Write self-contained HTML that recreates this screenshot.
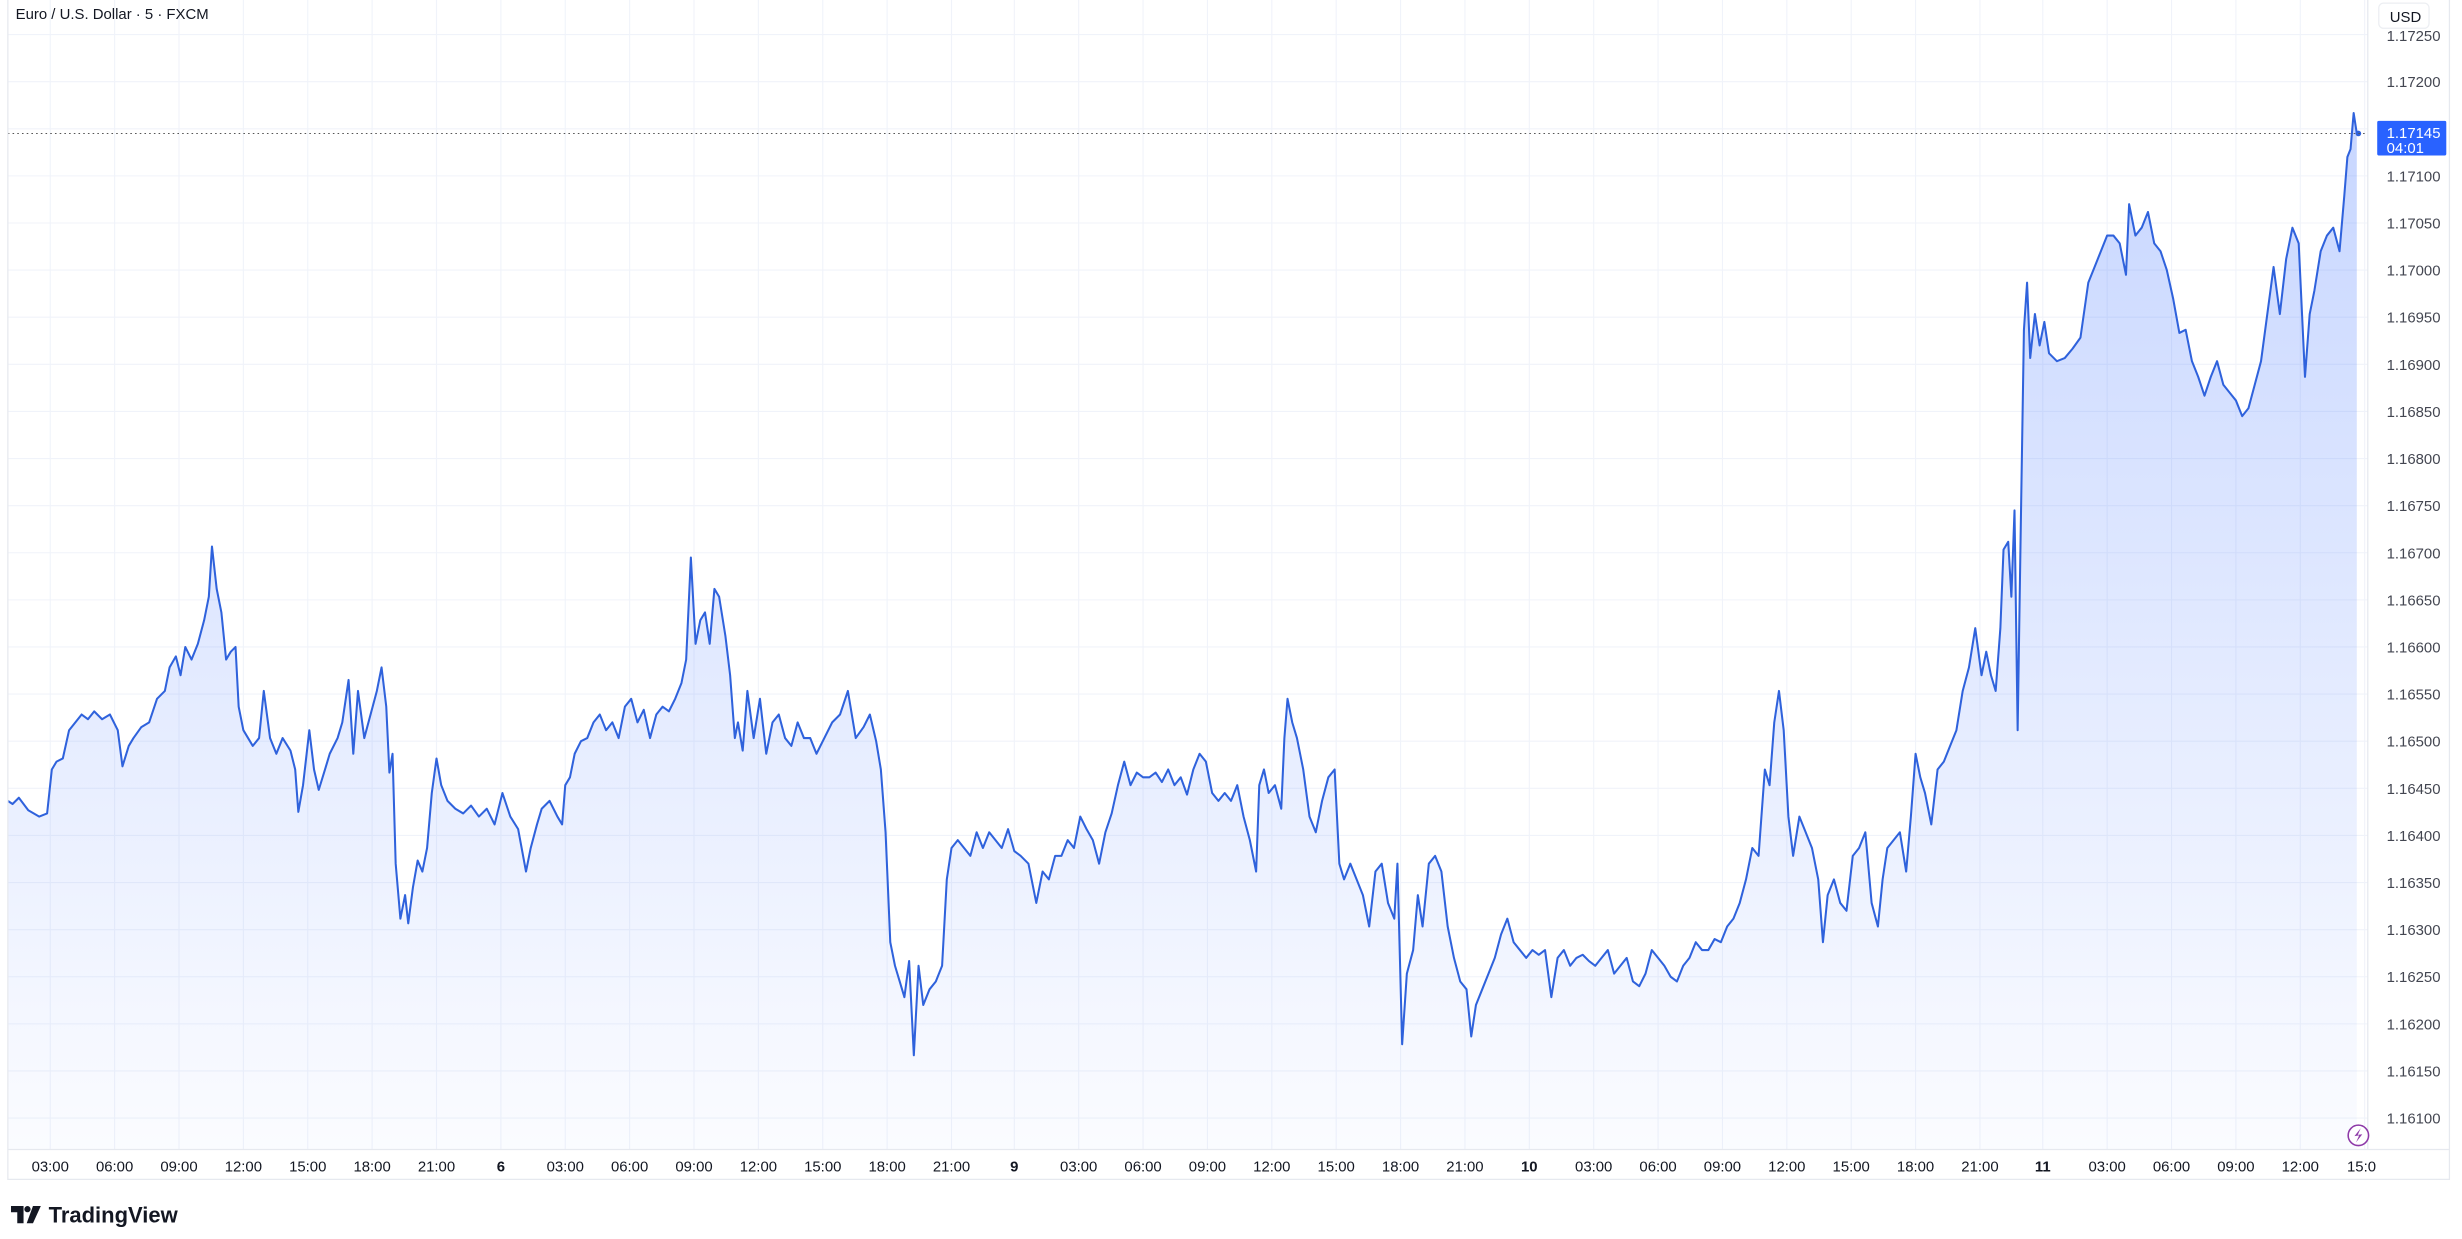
<!DOCTYPE html>
<html><head><meta charset="utf-8"><style>
html,body{margin:0;padding:0;background:#fff;}
svg{display:block;}
text{font-family:"Liberation Sans",sans-serif;}
</style></head><body>
<svg width="2462" height="1239" viewBox="0 0 1568 789" preserveAspectRatio="none" xmlns="http://www.w3.org/2000/svg">
<defs><linearGradient id="g" x1="0" y1="0" x2="0" y2="1">
<stop offset="0" stop-color="#2962ff" stop-opacity="0.26"/>
<stop offset="1" stop-color="#2962ff" stop-opacity="0.02"/></linearGradient></defs>
<rect x="0" y="0" width="1568" height="789" fill="#fff"/>
<g stroke="#f0f3fa" stroke-width="0.7">
<line x1="5" x2="1508" y1="22" y2="22"/><line x1="5" x2="1508" y1="52" y2="52"/><line x1="5" x2="1508" y1="82" y2="82"/><line x1="5" x2="1508" y1="112" y2="112"/><line x1="5" x2="1508" y1="142" y2="142"/><line x1="5" x2="1508" y1="172" y2="172"/><line x1="5" x2="1508" y1="202" y2="202"/><line x1="5" x2="1508" y1="232" y2="232"/><line x1="5" x2="1508" y1="262" y2="262"/><line x1="5" x2="1508" y1="292" y2="292"/><line x1="5" x2="1508" y1="322" y2="322"/><line x1="5" x2="1508" y1="352" y2="352"/><line x1="5" x2="1508" y1="382" y2="382"/><line x1="5" x2="1508" y1="412" y2="412"/><line x1="5" x2="1508" y1="442" y2="442"/><line x1="5" x2="1508" y1="472" y2="472"/><line x1="5" x2="1508" y1="502" y2="502"/><line x1="5" x2="1508" y1="532" y2="532"/><line x1="5" x2="1508" y1="562" y2="562"/><line x1="5" x2="1508" y1="592" y2="592"/><line x1="5" x2="1508" y1="622" y2="622"/><line x1="5" x2="1508" y1="652" y2="652"/><line x1="5" x2="1508" y1="682" y2="682"/><line x1="5" x2="1508" y1="712" y2="712"/>
</g>
<g stroke="#f0f3fa" stroke-width="0.7" id="vg"></g>
<g stroke="#f0f3fa" stroke-width="0.7">
<line x1="32" x2="32" y1="0" y2="732"/><line x1="73" x2="73" y1="0" y2="732"/><line x1="114" x2="114" y1="0" y2="732"/><line x1="155" x2="155" y1="0" y2="732"/><line x1="196" x2="196" y1="0" y2="732"/><line x1="237" x2="237" y1="0" y2="732"/><line x1="278" x2="278" y1="0" y2="732"/><line x1="319" x2="319" y1="0" y2="732"/><line x1="360" x2="360" y1="0" y2="732"/><line x1="401" x2="401" y1="0" y2="732"/><line x1="442" x2="442" y1="0" y2="732"/><line x1="483" x2="483" y1="0" y2="732"/><line x1="524" x2="524" y1="0" y2="732"/><line x1="565" x2="565" y1="0" y2="732"/><line x1="606" x2="606" y1="0" y2="732"/><line x1="646" x2="646" y1="0" y2="732"/><line x1="687" x2="687" y1="0" y2="732"/><line x1="728" x2="728" y1="0" y2="732"/><line x1="769" x2="769" y1="0" y2="732"/><line x1="810" x2="810" y1="0" y2="732"/><line x1="851" x2="851" y1="0" y2="732"/><line x1="892" x2="892" y1="0" y2="732"/><line x1="933" x2="933" y1="0" y2="732"/><line x1="974" x2="974" y1="0" y2="732"/><line x1="1015" x2="1015" y1="0" y2="732"/><line x1="1056" x2="1056" y1="0" y2="732"/><line x1="1097" x2="1097" y1="0" y2="732"/><line x1="1138" x2="1138" y1="0" y2="732"/><line x1="1179" x2="1179" y1="0" y2="732"/><line x1="1220" x2="1220" y1="0" y2="732"/><line x1="1261" x2="1261" y1="0" y2="732"/><line x1="1301" x2="1301" y1="0" y2="732"/><line x1="1342" x2="1342" y1="0" y2="732"/><line x1="1383" x2="1383" y1="0" y2="732"/><line x1="1424" x2="1424" y1="0" y2="732"/><line x1="1465" x2="1465" y1="0" y2="732"/><line x1="1506" x2="1506" y1="0" y2="732"/>
</g>
<polygon fill="url(#g)" points="5,732 5,510 8,512 12,508 18,516 25,520 30,518 33,490 36,485 40,483 44,465 48,460 52,455 56,458 60,453 65,458 70,455 75,465 78,488 82,475 85,470 90,463 95,460 100,445 105,440 108,425 112,418 115,430 118,412 122,420 126,410 130,395 133,380 135,348 138,375 141,390 144,420 147,415 150,412 152,450 155,465 158,470 161,475 165,470 168,440 172,470 176,480 180,470 185,478 188,490 190,517 193,500 197,465 200,490 203,503 207,490 210,480 215,470 218,460 222,433 225,480 228,440 232,470 236,455 240,440 243,425 246,450 248,492 250,480 252,550 255,585 258,570 260,588 263,565 266,548 269,555 272,540 275,505 278,483 281,500 285,510 290,515 295,518 300,513 305,520 310,515 315,525 320,505 325,520 330,528 335,555 338,540 342,525 345,515 350,510 355,520 358,525 360,500 363,495 366,480 370,472 374,470 378,460 382,455 386,465 390,460 394,470 398,450 402,445 406,460 410,452 414,470 418,455 422,450 426,453 430,445 434,435 437,420 440,355 443,410 446,395 449,390 452,410 455,375 458,380 462,405 465,430 468,470 470,460 473,478 476,440 480,470 484,445 488,480 492,460 496,455 500,470 504,475 508,460 512,470 516,470 520,480 525,470 530,460 535,455 540,440 545,470 550,463 554,455 558,472 561,490 564,530 567,600 570,615 573,625 576,635 579,612 582,672 585,615 588,640 592,630 596,625 600,615 603,560 606,540 610,535 614,540 618,545 622,530 626,540 630,530 634,535 638,540 642,528 646,542 650,545 655,550 660,575 664,555 668,560 672,545 676,545 680,535 684,540 688,520 692,528 696,535 700,550 704,530 708,518 712,500 716,485 720,500 724,492 728,495 732,495 736,492 740,498 744,490 748,500 752,495 756,506 760,490 764,480 768,485 772,505 776,510 780,505 784,510 788,500 792,520 796,535 800,555 802,500 805,490 808,505 812,500 816,515 818,470 820,445 823,460 826,470 830,490 834,520 838,530 842,510 846,495 850,490 853,550 856,560 860,550 864,560 868,570 872,590 876,555 880,550 884,575 888,585 890,550 893,665 896,620 900,605 903,570 906,590 910,550 914,545 918,555 922,590 926,610 930,625 934,630 937,660 940,640 944,630 948,620 952,610 956,595 960,585 964,600 968,605 972,610 976,605 980,608 984,605 988,635 992,610 996,605 1000,615 1004,610 1008,608 1012,612 1016,615 1020,610 1024,605 1028,620 1032,615 1036,610 1040,625 1044,628 1048,620 1052,605 1056,610 1060,615 1064,622 1068,625 1072,615 1076,610 1080,600 1084,605 1088,605 1092,598 1096,600 1100,590 1104,585 1108,575 1112,560 1116,540 1120,545 1124,490 1127,500 1130,460 1133,440 1136,465 1139,520 1142,545 1146,520 1150,530 1154,540 1158,560 1161,600 1164,570 1168,560 1172,575 1176,580 1180,545 1184,540 1188,530 1192,575 1196,590 1199,560 1202,540 1206,535 1210,530 1214,555 1217,520 1220,480 1223,495 1226,505 1230,525 1234,490 1238,485 1242,475 1246,465 1250,440 1254,425 1258,400 1262,430 1265,415 1268,430 1271,440 1274,400 1276,350 1279,345 1281,380 1283,325 1285,465 1287,335 1289,210 1291,180 1293,228 1296,200 1299,220 1302,205 1305,225 1310,230 1315,228 1320,222 1325,215 1330,180 1334,170 1338,160 1342,150 1346,150 1350,155 1354,175 1356,130 1360,150 1364,145 1368,135 1372,155 1376,160 1380,172 1384,190 1388,212 1392,210 1396,230 1400,240 1404,252 1408,240 1412,230 1416,245 1420,250 1424,255 1428,265 1432,260 1436,245 1440,230 1444,200 1448,170 1452,200 1456,165 1460,145 1464,155 1468,240 1471,200 1474,185 1478,160 1482,150 1486,145 1490,160 1493,125 1495,100 1497,95 1499,72 1501,85 1501,732"/>
<polyline fill="none" stroke="#2f62dc" stroke-width="1.3" stroke-linejoin="round" points="5,510 8,512 12,508 18,516 25,520 30,518 33,490 36,485 40,483 44,465 48,460 52,455 56,458 60,453 65,458 70,455 75,465 78,488 82,475 85,470 90,463 95,460 100,445 105,440 108,425 112,418 115,430 118,412 122,420 126,410 130,395 133,380 135,348 138,375 141,390 144,420 147,415 150,412 152,450 155,465 158,470 161,475 165,470 168,440 172,470 176,480 180,470 185,478 188,490 190,517 193,500 197,465 200,490 203,503 207,490 210,480 215,470 218,460 222,433 225,480 228,440 232,470 236,455 240,440 243,425 246,450 248,492 250,480 252,550 255,585 258,570 260,588 263,565 266,548 269,555 272,540 275,505 278,483 281,500 285,510 290,515 295,518 300,513 305,520 310,515 315,525 320,505 325,520 330,528 335,555 338,540 342,525 345,515 350,510 355,520 358,525 360,500 363,495 366,480 370,472 374,470 378,460 382,455 386,465 390,460 394,470 398,450 402,445 406,460 410,452 414,470 418,455 422,450 426,453 430,445 434,435 437,420 440,355 443,410 446,395 449,390 452,410 455,375 458,380 462,405 465,430 468,470 470,460 473,478 476,440 480,470 484,445 488,480 492,460 496,455 500,470 504,475 508,460 512,470 516,470 520,480 525,470 530,460 535,455 540,440 545,470 550,463 554,455 558,472 561,490 564,530 567,600 570,615 573,625 576,635 579,612 582,672 585,615 588,640 592,630 596,625 600,615 603,560 606,540 610,535 614,540 618,545 622,530 626,540 630,530 634,535 638,540 642,528 646,542 650,545 655,550 660,575 664,555 668,560 672,545 676,545 680,535 684,540 688,520 692,528 696,535 700,550 704,530 708,518 712,500 716,485 720,500 724,492 728,495 732,495 736,492 740,498 744,490 748,500 752,495 756,506 760,490 764,480 768,485 772,505 776,510 780,505 784,510 788,500 792,520 796,535 800,555 802,500 805,490 808,505 812,500 816,515 818,470 820,445 823,460 826,470 830,490 834,520 838,530 842,510 846,495 850,490 853,550 856,560 860,550 864,560 868,570 872,590 876,555 880,550 884,575 888,585 890,550 893,665 896,620 900,605 903,570 906,590 910,550 914,545 918,555 922,590 926,610 930,625 934,630 937,660 940,640 944,630 948,620 952,610 956,595 960,585 964,600 968,605 972,610 976,605 980,608 984,605 988,635 992,610 996,605 1000,615 1004,610 1008,608 1012,612 1016,615 1020,610 1024,605 1028,620 1032,615 1036,610 1040,625 1044,628 1048,620 1052,605 1056,610 1060,615 1064,622 1068,625 1072,615 1076,610 1080,600 1084,605 1088,605 1092,598 1096,600 1100,590 1104,585 1108,575 1112,560 1116,540 1120,545 1124,490 1127,500 1130,460 1133,440 1136,465 1139,520 1142,545 1146,520 1150,530 1154,540 1158,560 1161,600 1164,570 1168,560 1172,575 1176,580 1180,545 1184,540 1188,530 1192,575 1196,590 1199,560 1202,540 1206,535 1210,530 1214,555 1217,520 1220,480 1223,495 1226,505 1230,525 1234,490 1238,485 1242,475 1246,465 1250,440 1254,425 1258,400 1262,430 1265,415 1268,430 1271,440 1274,400 1276,350 1279,345 1281,380 1283,325 1285,465 1287,335 1289,210 1291,180 1293,228 1296,200 1299,220 1302,205 1305,225 1310,230 1315,228 1320,222 1325,215 1330,180 1334,170 1338,160 1342,150 1346,150 1350,155 1354,175 1356,130 1360,150 1364,145 1368,135 1372,155 1376,160 1380,172 1384,190 1388,212 1392,210 1396,230 1400,240 1404,252 1408,240 1412,230 1416,245 1420,250 1424,255 1428,265 1432,260 1436,245 1440,230 1444,200 1448,170 1452,200 1456,165 1460,145 1464,155 1468,240 1471,200 1474,185 1478,160 1482,150 1486,145 1490,160 1493,125 1495,100 1497,95 1499,72 1501,85"/>
<circle cx="1502" cy="85" r="1.8" fill="#2f62dc"/>
<line x1="5" x2="1508" y1="85" y2="85" stroke="#555" stroke-width="0.6" stroke-dasharray="1,2"/>
<!-- frame -->
<g stroke="#e6e9ef" stroke-width="0.8" fill="none">
<line x1="1508" y1="0" x2="1508" y2="732"/>
<line x1="5" y1="732" x2="1560" y2="732"/>
<polyline points="5,0 5,751 1560,751 1560,0"/>
</g>
<text x="10" y="12" font-size="9.5" fill="#131722">Euro / U.S. Dollar · 5 · FXCM</text>
<rect x="1515" y="2" width="32" height="16" rx="3" fill="#fff" stroke="#eceef2" stroke-width="0.8"/>
<text x="1522" y="14" font-size="9.5" fill="#131722">USD</text>
<g font-size="9.5" fill="#434651">
<text x="1520" y="26">1.17250</text><text x="1520" y="55.5">1.17200</text><text x="1520" y="115.5">1.17100</text><text x="1520" y="145.5">1.17050</text><text x="1520" y="175.5">1.17000</text><text x="1520" y="205.5">1.16950</text><text x="1520" y="235.5">1.16900</text><text x="1520" y="265.5">1.16850</text><text x="1520" y="295.5">1.16800</text><text x="1520" y="325.5">1.16750</text><text x="1520" y="355.5">1.16700</text><text x="1520" y="385.5">1.16650</text><text x="1520" y="415.5">1.16600</text><text x="1520" y="445.5">1.16550</text><text x="1520" y="475.5">1.16500</text><text x="1520" y="505.5">1.16450</text><text x="1520" y="535.5">1.16400</text><text x="1520" y="565.5">1.16350</text><text x="1520" y="595.5">1.16300</text><text x="1520" y="625.5">1.16250</text><text x="1520" y="655.5">1.16200</text><text x="1520" y="685.5">1.16150</text><text x="1520" y="715.5">1.16100</text>
</g>
<rect x="1508" y="0" width="52" height="19" fill="#fff" opacity="0"/>
<rect x="1514" y="77" width="44" height="22" rx="1" fill="#2962ff"/>
<text x="1520" y="88" font-size="9.5" fill="#fff">1.17145</text>
<text x="1520" y="97.5" font-size="9.5" fill="#fff">04:01</text>
<circle cx="1502" cy="723" r="6.5" fill="#fff" stroke="#8e3aa8" stroke-width="1"/>
<path d="M1503.5,718.5 L1499.5,723.5 L1502.5,723 L1500.5,727.5 L1504.5,722.3 L1501.6,722.7 Z" fill="#8e3aa8"/>
<g font-size="9.5" fill="#131722" text-anchor="middle">
<text x="32" y="746">03:00</text><text x="73" y="746">06:00</text><text x="114" y="746">09:00</text><text x="155" y="746">12:00</text><text x="196" y="746">15:00</text><text x="237" y="746">18:00</text><text x="278" y="746">21:00</text><text x="319" y="746" font-weight="bold">6</text><text x="360" y="746">03:00</text><text x="401" y="746">06:00</text><text x="442" y="746">09:00</text><text x="483" y="746">12:00</text><text x="524" y="746">15:00</text><text x="565" y="746">18:00</text><text x="606" y="746">21:00</text><text x="646" y="746" font-weight="bold">9</text><text x="687" y="746">03:00</text><text x="728" y="746">06:00</text><text x="769" y="746">09:00</text><text x="810" y="746">12:00</text><text x="851" y="746">15:00</text><text x="892" y="746">18:00</text><text x="933" y="746">21:00</text><text x="974" y="746" font-weight="bold">10</text><text x="1015" y="746">03:00</text><text x="1056" y="746">06:00</text><text x="1097" y="746">09:00</text><text x="1138" y="746">12:00</text><text x="1179" y="746">15:00</text><text x="1220" y="746">18:00</text><text x="1261" y="746">21:00</text><text x="1301" y="746" font-weight="bold">11</text><text x="1342" y="746">03:00</text><text x="1383" y="746">06:00</text><text x="1424" y="746">09:00</text><text x="1465" y="746">12:00</text><text x="1504" y="746">15:0</text>
</g>
<g fill="#131722">
<path d="M7,768 H15 V779 H11 V772 H7 Z"/>
<circle cx="17.5" cy="770" r="2"/>
<path d="M21,768 H26 L21,779 H17 Z"/>
</g>
<text x="31" y="778.5" font-size="14" font-weight="bold" fill="#131722">TradingView</text>
</svg>
</body></html>
